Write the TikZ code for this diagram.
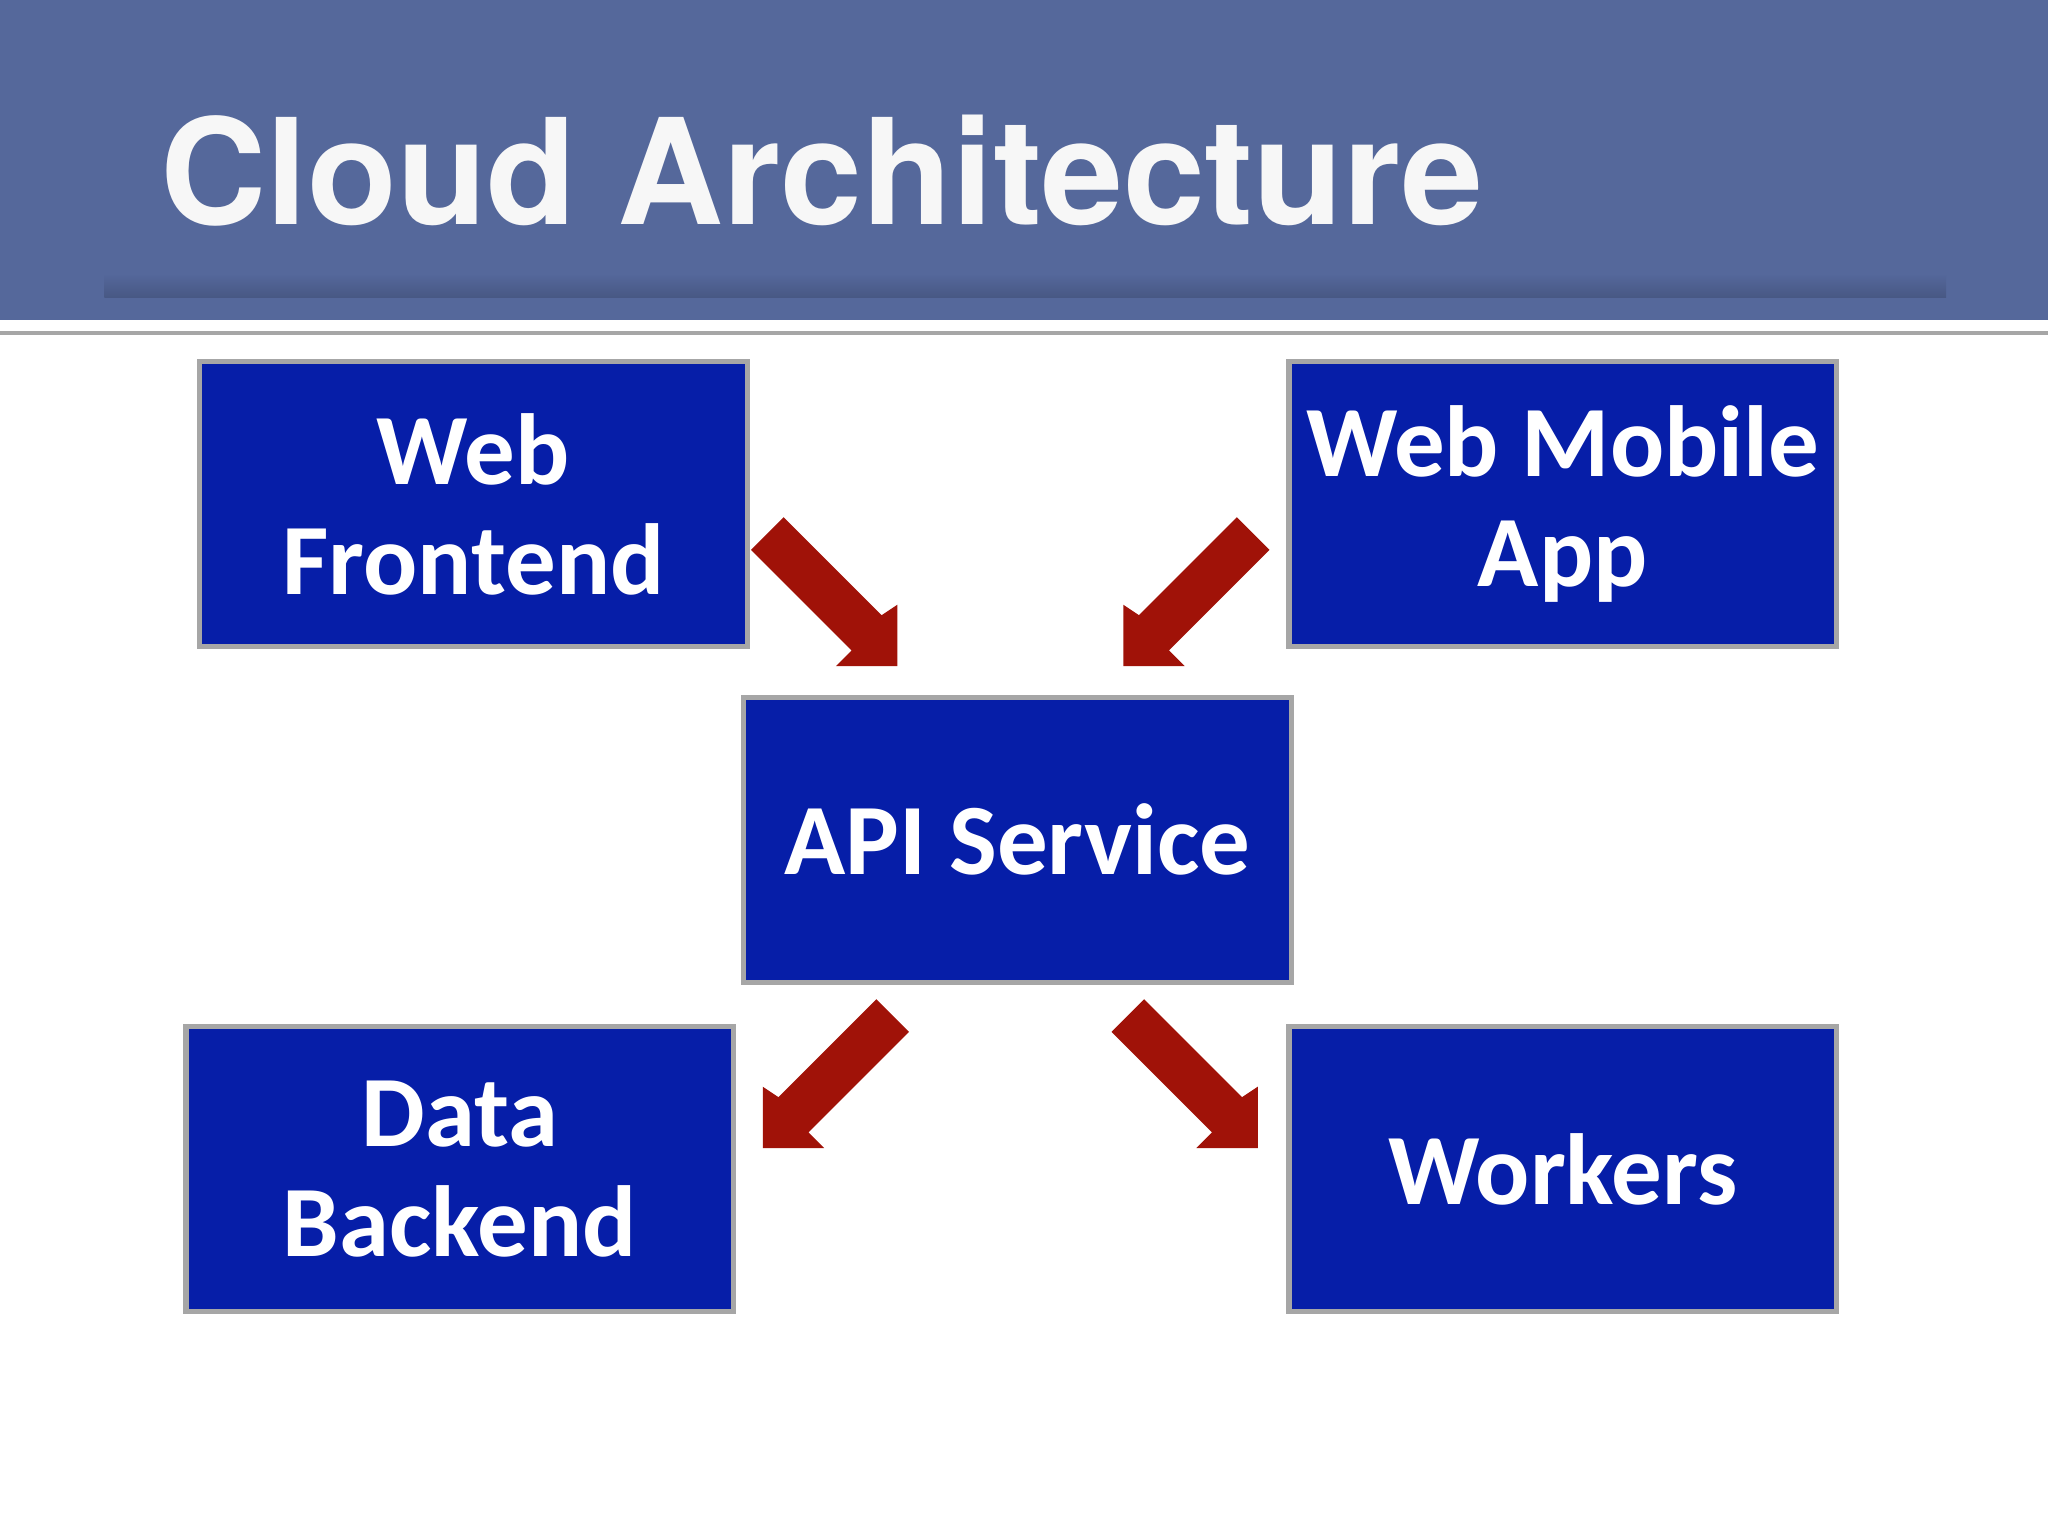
\documentclass[tikz,border=0pt]{standalone}
\usepackage{fontspec}
\newfontfamily\titlefont{TeX Gyre Heros}
\newfontfamily\boxfont{Carlito}
\definecolor{hdr}{RGB}{85,104,155}
\definecolor{boxblue}{RGB}{6,30,168}
\definecolor{arr}{RGB}{160,18,8}
\begin{document}
\begin{tikzpicture}[x=0.01cm,y=-0.01cm,
  box/.style={draw=gray!70,line width=1.2pt,fill=boxblue,text=white,align=center,
    font=\boxfont\bfseries\fontsize{22}{24}\selectfont,inner sep=0pt,
    minimum width=4.19cm,minimum height=2.18cm},
  blk/.style={fill=arr,draw=none}]
\useasboundingbox (0,0) rectangle (1568,1176);
\fill[hdr] (0,0) rectangle (1568,245);
\shade[top color=hdr,bottom color=hdr!70!black,opacity=0.5] (80,210) rectangle (1490,228);
\draw[gray!70,line width=1pt] (0,255) -- (1568,255);
\node[anchor=base west,text=white!94!gray,font=\titlefont\bfseries\fontsize{32}{36}\selectfont,inner sep=0pt] (title) at (122,172) {Cloud Architecture};
\node[box] (wf) at (362.5,386) {Web\\Frontend};
\node[box] (wm) at (1196.5,386) {Web Mobile\\App};
\node[box] (api) at (779,643) {API Service};
\node[box] (db) at (352,895) {Data\\Backend};
\node[box] (wk) at (1196.5,895) {Workers};
\coordinate (t1) at (687,510);
\coordinate (t2) at (860,510);
\coordinate (t3) at (584,879);
\coordinate (t4) at (963,879);
\def\arrowpoly{(0,0) -- (-47,0) -- (-35,-12) -- (-112,-89) -- (-87,-114) -- (-12,-39) -- (0,-47) -- cycle}
\fill[blk,shift={(t1)}] \arrowpoly;
\fill[blk,shift={(t2)},xscale=-1] \arrowpoly;
\fill[blk,shift={(t3)},xscale=-1] \arrowpoly;
\fill[blk,shift={(t4)}] \arrowpoly;
\end{tikzpicture}
\end{document}
